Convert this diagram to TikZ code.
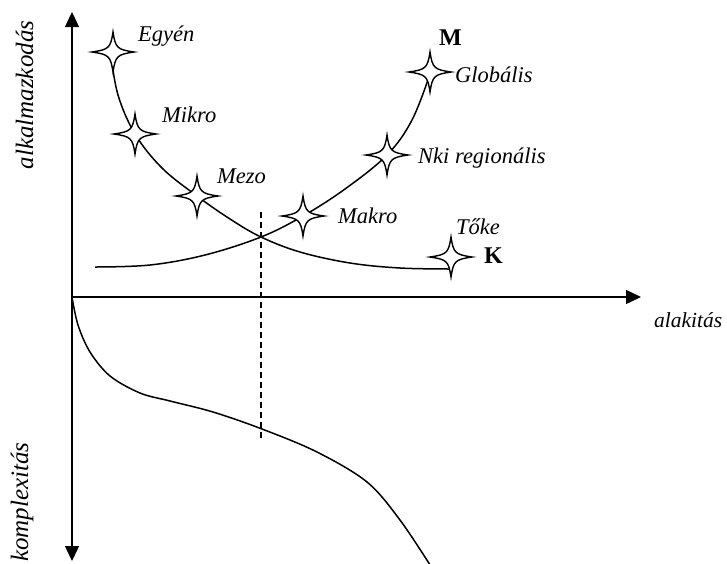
\documentclass[tikz,border=0pt]{standalone}
\usepackage{fontspec}
\setmainfont{Liberation Serif}
\usetikzlibrary{arrows.meta}
\tikzset{
  axis/.style={line width=1.4pt,-{Triangle[length=15pt,width=14pt]}},
  curve/.style={line width=1.5pt},
  lbl/.style={font=\fontsize{22.5}{26}\selectfont\itshape,inner sep=0pt,anchor=base west},
  axlbl/.style={font=\fontsize{25}{28}\selectfont\itshape,inner sep=0pt,anchor=base},
  big/.style={font=\fontsize{24}{28}\selectfont\bfseries,inner sep=0pt,anchor=base west},
  star4/.pic={\draw[fill=white,line width=1.4pt] (21,0) .. controls (4,2.5) and (2.5,4) .. (0,20)
     .. controls (-2.5,4) and (-4,2.5) .. (-21,0) .. controls (-4,-2.5) and (-2.5,-4) .. (0,-20)
     .. controls (2.5,-4) and (4,-2.5) .. cycle;}
}
\begin{document}
\begin{tikzpicture}[x=1pt,y=-1pt]
\useasboundingbox (0,0) rectangle (727,563);
% axes
\coordinate (O) at (72,297);
\coordinate (top) at (72,12);
\coordinate (bot) at (72,561);
\coordinate (right) at (641,297);
\draw[axis] (O) -- (top);
\draw[axis] (O) -- (bot);
\draw[axis] (O) -- (right);
% dashed
\coordinate (d1) at (261,212);
\coordinate (d2) at (261,441);
\draw[line width=1.1pt,dash pattern=on 6pt off 4pt] (d1) -- (d2);
% K curve
\draw[curve] plot[smooth,tension=0.6] coordinates {(111,55) (118,95) (135,134) (162,168) (197,196) (230,219) (261,237) (300,252) (350,263) (400,268) (451,269)};
% M curve
\draw[curve] plot[smooth,tension=0.6] coordinates {(95,267) (150,265) (205,255) (261,237) (303,216) (345,189) (387,155) (412,120) (430,74)};
% lower curve
\draw[curve] plot[smooth,tension=0.55] coordinates {(72,297) (78,325) (90,352) (110,376) (140,393) (170,401) (213,412) (262,429) (317,452) (367,482) (400,520) (432,568)};
% stars
\pic at (113,52) {star4};
\pic at (135,134) {star4};
\pic at (197,196) {star4};
\pic at (303,216) {star4};
\pic at (387,155) {star4};
\pic at (430,72) {star4};
\pic at (451,257) {star4};
% labels
\node[lbl] (egyen) at (138,41) {Egyén};
\node[lbl] (mikro) at (162,122) {Mikro};
\node[lbl] (mezo) at (217,183) {Mezo};
\node[lbl] (makro) at (338,223) {Makro};
\node[lbl] (nki) at (418,163) {Nki regionális};
\node[lbl] (glob) at (455,82) {Globális};
\node[lbl] (toke) at (456,234) {Tőke};
\node[big] (M) at (439,45) {M};
\node[big] (K) at (484,263) {K};
\node[lbl,font=\fontsize{21.5}{25}\selectfont\itshape] (alak) at (654,327) {alakitás};
\node[axlbl,rotate=90] (alk) at (33,95) {alkalmazkodás};
\node[axlbl,rotate=90] (komp) at (28,502) {komplexitás};
\end{tikzpicture}
\end{document}
